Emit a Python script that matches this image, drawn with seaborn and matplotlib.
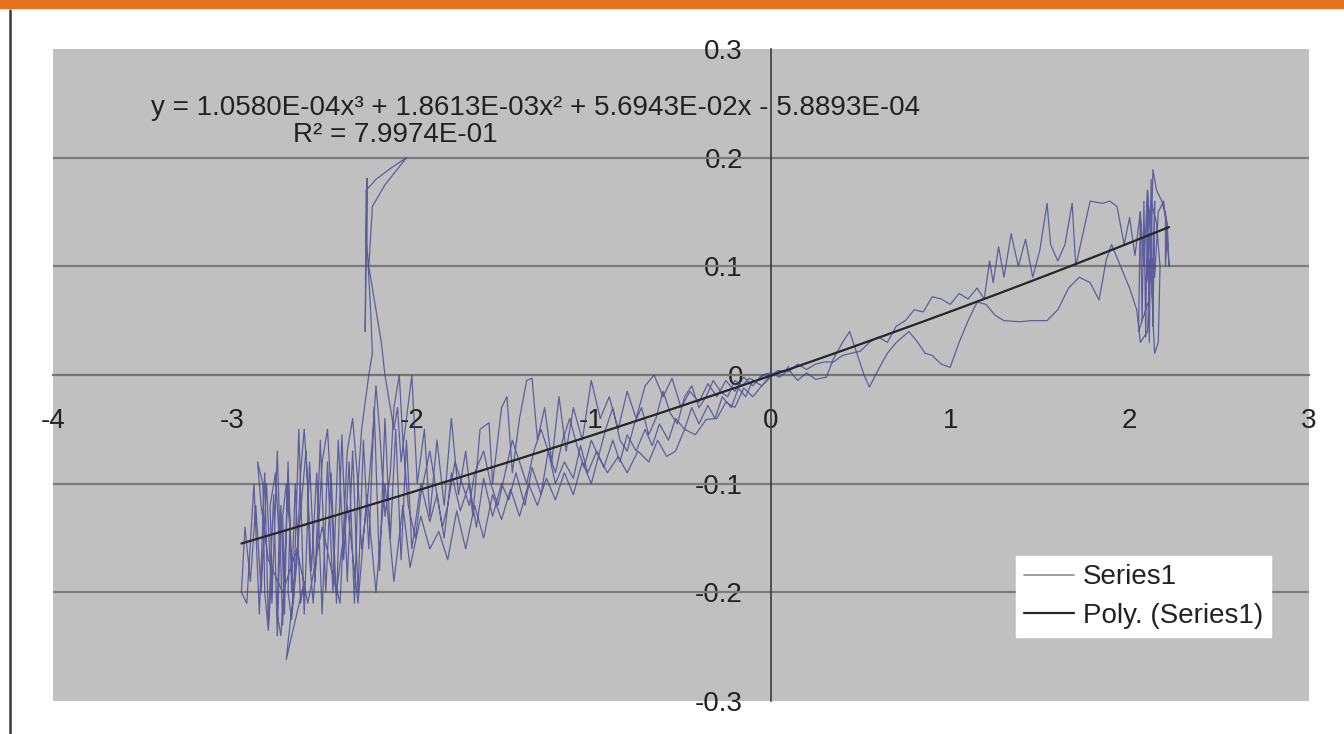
#! /usr/bin/env python3
import numpy as np
import pandas as pd
import matplotlib
matplotlib.use('Agg')
import matplotlib.pyplot as plt
from matplotlib.patches import Rectangle
from matplotlib.lines import Line2D
import seaborn as sns

# traced path of Series1, split into passes (x, y)
pass_a_x = [0.0, -0.05, -0.1, -0.14, -0.18, -0.22, -0.27, -0.31, -0.35, -0.4, -0.44, -0.48, -0.53, -0.57,
            -0.62, -0.66, -0.7, -0.75, -0.8, -0.84, -0.88, -0.93, -0.97, -1.02, -1.06, -1.1, -1.15, -1.2,
            -1.24, -1.28, -1.33, -1.37, -1.42, -1.46, -1.5, -1.55, -1.6, -1.64, -1.68, -1.73, -1.78, -1.82,
            -1.86, -1.9, -1.95, -2.0]
pass_a_y = [0.0, -0.01, -0.005, -0.02, -0.012, -0.03, -0.02, -0.04, -0.028, -0.045, -0.03, -0.05, -0.04, -0.06,
            -0.045, -0.065, -0.05, -0.07, -0.055, -0.08, -0.06, -0.085, -0.07, -0.09, -0.065, -0.095, -0.08, -0.1,
            -0.07, -0.11, -0.085, -0.12, -0.09, -0.115, -0.1, -0.13, -0.095, -0.14, -0.1, -0.125, -0.09, -0.15,
            -0.11, -0.135, -0.1, -0.16]

pass_b_x = [-2.03, -2.06, -2.09, -2.12, -2.15, -2.18, -2.21, -2.24, -2.27, -2.3, -2.33, -2.36, -2.39, -2.42,
            -2.45, -2.48, -2.51, -2.54, -2.57, -2.6, -2.63, -2.66, -2.69, -2.72, -2.75, -2.78, -2.81, -2.84,
            -2.87, -2.9, -2.93, -2.95, -2.92, -2.88, -2.85, -2.82, -2.8, -2.77, -2.75, -2.73, -2.71, -2.69,
            -2.67, -2.65, -2.62, -2.6, -2.7, -2.66, -2.59, -2.56, -2.53, -2.5, -2.47, -2.44, -2.41, -2.38,
            -2.35, -2.32, -2.3]
pass_b_y = [-0.06, -0.17, -0.05, -0.15, -0.04, -0.18, -0.03, -0.16, -0.06, -0.2, -0.07, -0.19, -0.055, -0.21,
            -0.09, -0.2, -0.06, -0.19, -0.08, -0.22, -0.05, -0.21, -0.09, -0.23, -0.07, -0.21, -0.1, -0.2,
            -0.12, -0.19, -0.14, -0.2, -0.21, -0.1, -0.22, -0.09, -0.23, -0.11, -0.24, -0.12, -0.22, -0.08,
            -0.2, -0.1, -0.21, -0.19, -0.262, -0.2, -0.07, -0.18, -0.09, -0.22, -0.08, -0.2, -0.06, -0.17,
            -0.08, -0.21, -0.1]

pass_c_x = [-2.28, -2.24, -2.22, -2.23, -2.25, -2.25, -2.26, -2.255, -2.2, -2.12, -2.03, -2.15, -2.22,
            -2.24, -2.2, -2.17, -2.15, -2.13, -2.1, -2.08, -2.06]
pass_c_y = [-0.05, 0.0, 0.02, 0.06, 0.12, 0.181, 0.04, 0.17, 0.18, 0.19, 0.2, 0.175, 0.155,
            0.1, 0.06, 0.03, 0.0, -0.02, -0.05, -0.03, -0.08]

pass_d_x = [-2.0, -1.97, -1.93, -1.9, -1.86, -1.82, -1.78, -1.74, -1.7, -1.66, -1.62, -1.57, -1.55, -1.5,
            -1.47, -1.44, -1.4, -1.36, -1.33, -1.3, -1.26, -1.22, -1.18, -1.14, -1.1, -1.05, -1.0, -0.95,
            -0.9, -0.85, -0.8, -0.75, -0.7, -0.65, -0.6, -0.55, -0.5, -0.45, -0.4, -0.35, -0.3, -0.25,
            -0.2, -0.15, -0.1, -0.05, 0.0, 0.05, 0.1, 0.15, 0.2, 0.25, 0.31, 0.35, 0.4, 0.44, 0.48, 0.52,
            0.55, 0.6, 0.65, 0.7, 0.77, 0.82, 0.86, 0.9, 0.95, 1.0, 1.05, 1.1, 1.15, 1.2, 1.25, 1.3, 1.39,
            1.45, 1.54, 1.6, 1.66, 1.72, 1.78, 1.83, 1.87, 1.9, 1.95, 2.0, 2.04, 2.06, 2.1, 2.12, 2.13,
            2.14, 2.16, 2.17, 2.15, 2.12, 2.1, 2.11]
pass_d_y = [0.0, -0.1, -0.05, -0.13, -0.06, -0.12, -0.04, -0.11, -0.07, -0.13, -0.05, -0.044, -0.1, -0.03,
            -0.02, -0.09, -0.04, -0.005, -0.003, -0.06, -0.03, -0.08, -0.02, -0.07, -0.03, -0.06, -0.005, -0.04,
            -0.02, -0.05, -0.015, -0.04, -0.01, 0.0, -0.02, -0.003, -0.03, -0.015, -0.025, -0.008, -0.02, -0.005,
            -0.015, -0.002, -0.01, 0.0, 0.002, -0.002, 0.005, -0.005, 0.002, -0.004, -0.002, 0.015, 0.03, 0.04, 0.02, 0.0,
            -0.011, 0.005, 0.02, 0.03, 0.04, 0.03, 0.02, 0.018, 0.01, 0.007, 0.03, 0.05, 0.067, 0.065, 0.055, 0.05, 0.049,
            0.05, 0.05, 0.06, 0.08, 0.09, 0.085, 0.069, 0.106, 0.12, 0.1, 0.08, 0.06, 0.03, 0.04, 0.12, 0.05,
            0.02, 0.03, 0.1, 0.14, 0.16, 0.13, 0.07]

pass_h_x = [2.05, 2.06, 2.07, 2.08, 2.09, 2.1, 2.11, 2.12, 2.13, 2.14, 2.13, 2.11, 2.09, 2.12, 2.14,
            2.16, 2.19, 2.21, 2.2]
pass_h_y = [0.04, 0.15, 0.05, 0.16, 0.035, 0.17, 0.03, 0.18, 0.045, 0.16, 0.06, 0.13, 0.08, 0.11, 0.09,
            0.15, 0.16, 0.13, 0.1]

pass_e_x = [2.2, 2.22, 2.21, 2.18, 2.15, 2.13, 2.12, 2.1, 2.08, 2.06, 2.03, 2.0, 1.97, 1.93, 1.89, 1.85,
            1.78, 1.74, 1.7, 1.68, 1.64, 1.6, 1.56, 1.54, 1.5, 1.46, 1.42, 1.38, 1.34, 1.3, 1.27, 1.24,
            1.22, 1.19, 1.15, 1.1, 1.05, 1.0, 0.95, 0.9, 0.85, 0.8, 0.75, 0.7, 0.65, 0.6, 0.55, 0.5, 0.45,
            0.4, 0.35, 0.3, 0.25, 0.2, 0.15, 0.1, 0.05, 0.0]
pass_e_y = [0.15, 0.1, 0.14, 0.16, 0.17, 0.189, 0.12, 0.17, 0.1, 0.15, 0.11, 0.145, 0.12, 0.155, 0.16, 0.158,
            0.16, 0.13, 0.1, 0.158, 0.12, 0.105, 0.12, 0.158, 0.115, 0.09, 0.125, 0.1, 0.13, 0.09, 0.118, 0.085,
            0.105, 0.07, 0.08, 0.07, 0.075, 0.065, 0.07, 0.072, 0.058, 0.06, 0.05, 0.045, 0.03, 0.035, 0.03, 0.022, 0.02,
            0.018, 0.012, 0.012, 0.01, 0.005, 0.01, 0.003, 0.004, -0.002]

pass_f_x = [-0.05, -0.1, -0.15, -0.2, -0.25, -0.3, -0.36, -0.42, -0.48, -0.53, -0.58, -0.63, -0.68, -0.74,
            -0.8, -0.85, -0.91, -0.96, -1.0, -1.05, -1.1, -1.15, -1.2, -1.25, -1.3, -1.35, -1.4, -1.45,
            -1.5, -1.55, -1.6, -1.65, -1.7, -1.75, -1.8, -1.85, -1.9, -1.95, -2.01, -2.05, -2.1, -2.15,
            -2.2, -2.25, -2.3, -2.36, -2.42, -2.5, -2.58, -2.64, -2.72, -2.8]
pass_f_y = [-0.01, -0.02, -0.012, -0.03, -0.025, -0.04, -0.041, -0.055, -0.05, -0.07, -0.075, -0.06, -0.08, -0.07,
            -0.09, -0.075, -0.09, -0.075, -0.1, -0.08, -0.11, -0.09, -0.115, -0.095, -0.12, -0.1, -0.13, -0.105,
            -0.133, -0.11, -0.15, -0.12, -0.16, -0.125, -0.17, -0.144, -0.16, -0.13, -0.177, -0.12, -0.19, -0.1,
            -0.2, -0.11, -0.21, -0.12, -0.2, -0.14, -0.21, -0.16, -0.2, -0.17]

pass_g_x = [-2.84, -2.86, -2.83, -2.82, -2.8, -2.78, -2.79, -2.76, -2.74, -2.75, -2.73, -2.71, -2.72, -2.7,
            -2.68, -2.69, -2.67, -2.64, -2.62, -2.6, -2.58, -2.57, -2.55, -2.52, -2.5, -2.47, -2.45, -2.43,
            -2.4, -2.38, -2.36, -2.33, -2.3, -2.28, -2.25, -2.22, -2.2, -2.18, -2.15, -2.12, -2.1, -2.07,
            -2.05, -2.02, -1.98, -1.95, -1.9, -1.87, -1.83, -1.8, -1.76, -1.72, -1.68, -1.65, -1.6, -1.56,
            -1.52, -1.48, -1.44, -1.4, -1.36, -1.32, -1.28, -1.24, -1.2, -1.16, -1.12, -1.08, -1.04, -1.0,
            -0.96, -0.92, -0.88, -0.84, -0.8, -0.76, -0.72, -0.68, -0.64, -0.6, -0.56, -0.52, -0.48, -0.44,
            -0.4, -0.36, -0.32, -0.28, -0.24, -0.2, -0.16, -0.12, -0.08, -0.04, 0.0, 0.04, 0.08, 0.1]
pass_g_y = [-0.12, -0.08, -0.1, -0.2, -0.235, -0.18, -0.12, -0.09, -0.15, -0.22, -0.24, -0.19, -0.13, -0.1,
            -0.14, -0.2, -0.225, -0.17, -0.09, -0.05, -0.1, -0.17, -0.21, -0.14, -0.08, -0.05, -0.11, -0.19,
            -0.21, -0.14, -0.07, -0.04, -0.1, -0.16, -0.12, -0.06, -0.01, -0.05, -0.13, -0.09, -0.03, 0.0,
            -0.06, -0.12, -0.15, -0.11, -0.07, -0.1, -0.14, -0.12, -0.08, -0.1, -0.12, -0.09, -0.07, -0.1,
            -0.12, -0.09, -0.06, -0.08, -0.1, -0.07, -0.05, -0.07, -0.09, -0.06, -0.04, -0.065, -0.085, -0.06,
            -0.075, -0.05, -0.03, -0.06, -0.07, -0.045, -0.03, -0.055, -0.04, -0.015, -0.035, -0.045, -0.02, -0.01,
            -0.03, -0.02, -0.005, -0.015, -0.02, -0.005, -0.01, -0.003, -0.006, 0.0, 0.0, 0.004, 0.003, 0.008]

# trendline coefficients as printed on the chart (x^3, x^2, x, const)
poly_coef = [1.0580E-04, 1.8613E-03, 5.6943E-02, -5.8893E-04]
r_squared = 7.9974E-01

x_ticks = [-4, -3, -2, -1, 0, 1, 2, 3]
y_ticks = [-0.3, -0.2, -0.1, 0, 0.1, 0.2, 0.3]
y_tick_labels = ['-0.3', '-0.2', '-0.1', '0', '0.1', '0.2', '0.3']

series_x = pass_a_x + pass_b_x + pass_c_x + pass_d_x + pass_h_x + pass_e_x + pass_f_x + pass_g_x
series_y = pass_a_y + pass_b_y + pass_c_y + pass_d_y + pass_h_y + pass_e_y + pass_f_y + pass_g_y
df = pd.DataFrame({'x': series_x, 'y': series_y})

trend_x = np.unique(series_x)
trend_df = pd.DataFrame({'x': trend_x, 'y': np.polyval(poly_coef, trend_x)})

sns.set_style('white')
plt.rcParams['font.family'] = ['Liberation Sans', 'DejaVu Sans']
plt.rcParams['font.size'] = 20

fig = plt.figure(figsize=(13.44, 7.34), dpi=100)
fig.patch.set_facecolor('white')
fig.patches.append(Rectangle((0, 1 - 8 / 734), 1, 8 / 734, transform=fig.transFigure,
                             color='#e8711f', zorder=5))
fig.add_artist(Line2D([9.5 / 1344, 9.5 / 1344], [0, 1 - 10 / 734], transform=fig.transFigure,
                      color='#3a3a3a', lw=1.8))

ax = fig.add_axes([53 / 1344, 33 / 734, 1256 / 1344, 652 / 734])
ax.set_facecolor('#c0c0c0')

# gridlines and axes through the origin
for g in [-0.2, -0.1, 0.1, 0.2]:
    ax.axhline(g, color='#7c7c7c', lw=1.6, zorder=1)
for s in ['top', 'right']:
    ax.spines[s].set_visible(False)
ax.spines['bottom'].set_position(('data', 0))
ax.spines['left'].set_position(('data', 0))
ax.spines['bottom'].set_color('#747474')
ax.spines['bottom'].set_linewidth(1.6)
ax.spines['left'].set_color('#3c3c3c')
ax.spines['left'].set_linewidth(1.2)

sns.lineplot(data=df, x='x', y='y', sort=False, estimator=None, ax=ax,
             color='#3d3d92', lw=0.9, alpha=0.75, label='Series1', zorder=3)
sns.lineplot(data=trend_df, x='x', y='y', sort=False, estimator=None, ax=ax,
             color='#262626', lw=1.6, label='Poly. (Series1)', zorder=4)

ax.set_xlim(-4, 3)
ax.set_ylim(-0.3, 0.3)
ax.set_xticks(x_ticks)
ax.set_xticklabels([str(t) for t in x_ticks])
ax.set_yticks(y_ticks)
ax.set_yticklabels(y_tick_labels)
ax.set_xlabel('')
ax.set_ylabel('')
ax.tick_params(axis='x', direction='out', length=5, width=1.2, color='#747474',
               pad=19, labelsize=20, labelcolor='#222222')
ax.tick_params(axis='y', direction='out', length=4, width=1, color='#747474',
               pad=16, labelsize=20, labelcolor='#222222')
for lab in ax.get_xticklabels() + ax.get_yticklabels():
    lab.set_clip_on(False)

eq = 'y = %.4EX³ + %.4Ex² + %.4Ex - %.4E' % (poly_coef[0], poly_coef[1], poly_coef[2], -poly_coef[3])
eq = eq.replace('X', 'x')
ax.text(-1.31, 0.2456, eq, ha='center', va='center', fontsize=20, color='#222222', zorder=6)
ax.text(-2.09, 0.221, 'R² = %.4E' % r_squared, ha='center', va='center', fontsize=20,
        color='#222222', zorder=6)

leg = ax.legend(loc='upper left', bbox_to_anchor=(0.7667, 0.2224), borderaxespad=0, frameon=True,
                fancybox=False, edgecolor='white', facecolor='white', framealpha=1,
                handlelength=1.8, handletextpad=0.3, borderpad=0.3, labelspacing=0.45, fontsize=20)
leg.get_lines()[0].set_color('#8c8c8c')
leg.get_lines()[0].set_alpha(1)
leg.get_lines()[0].set_linewidth(1.2)
for t in leg.get_texts():
    t.set_color('#222222')

fig.savefig('out.png', dpi=100)
